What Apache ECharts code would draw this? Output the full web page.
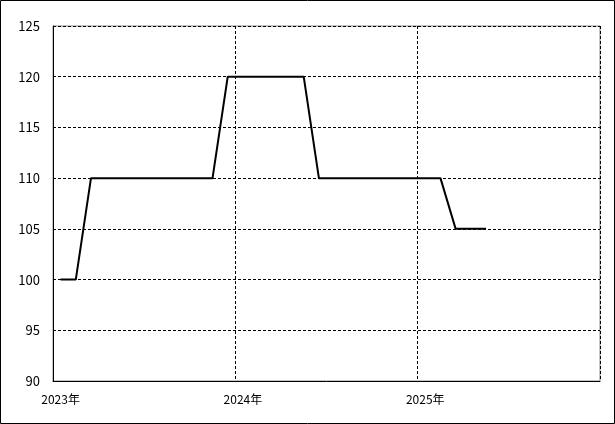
<!DOCTYPE html>
<html><head><meta charset="utf-8">
<script src="https://cdn.jsdelivr.net/npm/echarts@6/dist/echarts.min.js"></script>
<style>html,body{margin:0;padding:0;background:#fff}#c{width:615px;height:424px}</style>
</head><body><div id="c"></div>
<script>
const years = ['2023', '2024', '2025'];
const months = [];
years.forEach(y => { for (let m = 1; m <= 12; m++) months.push(y + '-' + (m < 10 ? '0' + m : m)); });
const values = [100, 100, 110, 110, 110, 110, 110, 110, 110, 110, 110, 120,
                120, 120, 120, 120, 120, 110, 110, 110, 110, 110, 110, 110,
                110, 110, 105, 105, 105, null, null, null, null, null, null, null];
const yMin = 90, yMax = 125, yStep = 5;
const font = '"Noto Sans CJK JP", "DejaVu Sans", sans-serif';
const chart = echarts.init(document.getElementById('c'), null, {renderer: 'canvas'});
chart.setOption({
  animation: false,
  backgroundColor: '#fff',
  grid: {left: 53, top: 26, right: 15, bottom: 43, show: true, borderColor: '#888', borderWidth: 1},
  xAxis: {
    type: 'category', data: months, boundaryGap: true,
    axisLine: {show: true, lineStyle: {color: '#000', width: 1}},
    axisTick: {show: false, interval: 11},
    axisLabel: {interval: 11, color: '#000', fontSize: 12, fontFamily: font, margin: 12,
      formatter: v => v.slice(0, 4) + '年'},
    splitLine: {show: true, interval: 11, lineStyle: {color: '#000', type: [3, 2], width: 1}}
  },
  yAxis: {
    type: 'value', min: yMin, max: yMax, interval: yStep,
    axisLine: {show: true, lineStyle: {color: '#000', width: 1}},
    axisTick: {show: false},
    axisLabel: {color: '#000', fontSize: 13, fontFamily: font, margin: 13},
    splitLine: {show: true, lineStyle: {color: '#000', type: [3, 2], width: 1}}
  },
  series: [{
    type: 'line', data: values, showSymbol: false, connectNulls: false,
    lineStyle: {color: '#000', width: 2}, z: 5
  }],
  graphic: [{type: 'rect', shape: {x: 0.5, y: 0.5, width: 614, height: 423},
    style: {fill: null, stroke: '#000', lineWidth: 1}, z: 100}]
});
</script></body></html>
